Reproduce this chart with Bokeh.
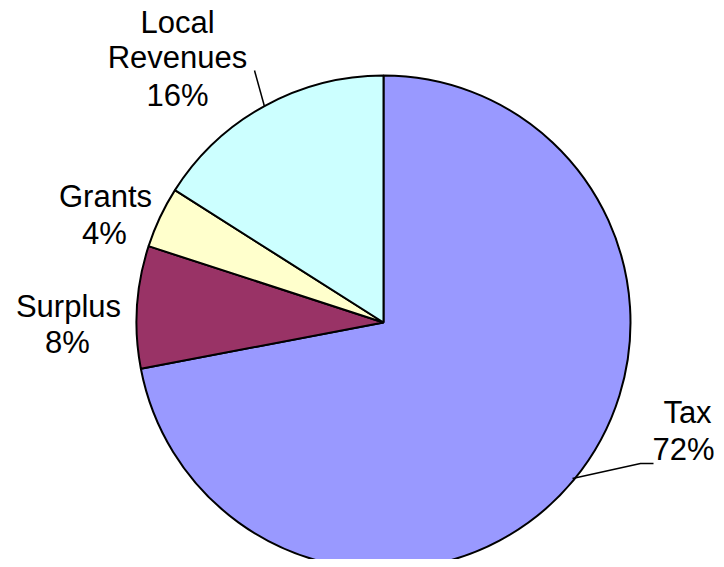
import math
from bokeh.plotting import figure
from bokeh.models import Range1d, ColumnDataSource
from bokeh.core.properties import value
from bokeh.embed import file_html
from bokeh.resources import INLINE

# ---- data ----
categories = ["Tax", "Surplus", "Grants", "Local Revenues"]
shares = [72, 8, 4, 16]
colors = ["#9999FF", "#993366", "#FFFFCC", "#CCFFFF"]
pct_labels = ["72%", "8%", "4%", "16%"]

W, H = 716, 559
p = figure(width=W, height=H, output_backend="svg", toolbar_location=None,
           x_range=Range1d(0, W), y_range=Range1d(0, H),
           min_border=0, outline_line_color=None)
p.axis.visible = False
p.grid.visible = False
p.background_fill_color = "white"
p.border_fill_color = "white"

def Y(s):  # screen y -> data y
    return H - s

cx, cy, r = 383, Y(322), 247
total = sum(shares)
starts, ends = [], []
acc = 0
for v in shares:
    a0 = math.pi / 2 - 2 * math.pi * acc / total
    acc += v
    a1 = math.pi / 2 - 2 * math.pi * acc / total
    starts.append(a0)
    ends.append(a1)

src = ColumnDataSource(dict(x=[cx] * 4, y=[cy] * 4, start=starts, end=ends,
                            color=colors, cat=categories))
p.wedge(x="x", y="y", radius=r, start_angle="start", end_angle="end",
        direction="clock", fill_color="color", line_color="black",
        line_width=2, source=src)

# leader lines
p.line([572, 640, 653], [Y(478), Y(463), Y(463)], line_color="black", line_width=1.5)
p.line([264, 254], [Y(106), Y(70)], line_color="black", line_width=1.5)

font = value("Liberation Sans")
fs = "31px"
dy = 11
lines = [
    ("Tax", 687, 423), ("72%", 683, 460),
    ("Surplus", 68, 317), ("8%", 67, 353),
    ("Grants", 105, 207), ("4%", 104, 244),
    ("Local", 177, 33), ("Revenues", 177, 68), ("16%", 177, 106),
]
p.text(x=[l[1] for l in lines], y=[Y(l[2] - dy) for l in lines], text=[l[0] for l in lines],
       text_font=font, text_font_size=fs, text_align="center",
       text_baseline="alphabetic", text_color="black")

open("out.html", "w").write(file_html(p, INLINE))
